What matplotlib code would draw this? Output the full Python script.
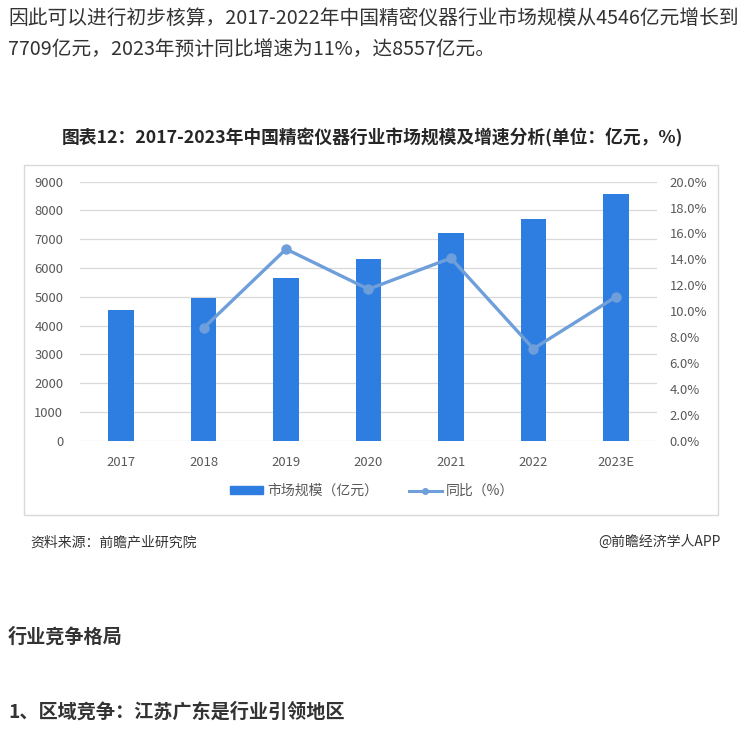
import numpy as np
import matplotlib
matplotlib.use('Agg')
import matplotlib.pyplot as plt
from matplotlib.patches import Rectangle
from matplotlib.lines import Line2D
from matplotlib.ticker import FuncFormatter

plt.rcParams['font.family'] = ['Noto Sans CJK SC', 'DejaVu Sans']

# data
years = ['2017', '2018', '2019', '2020', '2021', '2022', '2023E']
market_size = [4546, 4944, 5660, 6299, 7222, 7709, 8557]   # 亿元
growth = [None, 8.7, 14.8, 11.7, 14.1, 7.1, 11.1]            # %

para_lines = ['因此可以进行初步核算，2017-2022年中国精密仪器行业市场规模从4546亿元增长到',
              '7709亿元，2023年预计同比增速为11%，达8557亿元。']
chart_title = '图表12：2017-2023年中国精密仪器行业市场规模及增速分析(单位：亿元，%)'
legend_labels = ['市场规模（亿元）', '同比（%）']
source_text = '资料来源：前瞻产业研究院'
brand_text = '@前瞻经济学人APP'
heading1 = '行业竞争格局'
heading2 = '1、区域竞争：江苏广东是行业引领地区'

bar_color = '#2e7de1'
line_color = '#6f9fda'
tick_color = '#595959'
text_color = '#333333'

W, H = 745, 734
fig = plt.figure(figsize=(W / 100, H / 100), dpi=100)

def fx(px):
    return px / W

def fy(py):
    return 1 - py / H

# article text
fig.text(fx(8), fy(19), para_lines[0], fontsize=14.2, color=text_color, va='center')
fig.text(fx(8), fy(49), para_lines[1], fontsize=14.2, color=text_color, va='center')
fig.text(fx(8), fy(637), heading1, fontsize=13.8, color=text_color, va='center', fontweight='bold')
fig.text(fx(8), fy(712), heading2, fontsize=13.8, color=text_color, va='center', fontweight='bold')

# chart frame and title
fig.patches.append(Rectangle((fx(24), fy(515)), fx(718) - fx(24), fy(165) - fy(515),
                             transform=fig.transFigure, fill=False,
                             edgecolor='#d9d9d9', linewidth=1))
fig.text(fx(372), fy(138), chart_title, fontsize=12.8, color='#262626',
         ha='center', va='center', fontweight='bold')

ax = fig.add_axes([fx(80), fy(440.7), fx(657) - fx(80), fy(181.7) - fy(440.7)])
x = np.arange(len(years))
ax.bar(x, market_size, width=0.31, color=bar_color, zorder=3)
ax.set_xlim(-0.5, len(years) - 0.5)
ax.set_ylim(0, 9000)
ax.set_yticks(np.arange(0, 9001, 1000))
ax.set_xticks(x)
ax.set_xticklabels(years)
ax.grid(axis='y', color='#d9d9d9', linewidth=0.9, zorder=0)
ax.set_axisbelow(True)
for s in ax.spines.values():
    s.set_visible(False)
ax.tick_params(axis='both', length=0, labelsize=9.4, colors=tick_color)
ax.tick_params(axis='y', pad=12)
ax.tick_params(axis='x', pad=11)

ax2 = ax.twinx()
gx = [i for i, g in enumerate(growth) if g is not None]
gy = [g for g in growth if g is not None]
ax2.plot(gx, gy, color=line_color, linewidth=2.4, marker='o', markersize=6.5, zorder=4)
ax2.set_ylim(0, 20)
ax2.set_yticks(np.arange(0, 20.1, 2))
ax2.yaxis.set_major_formatter(FuncFormatter(lambda v, p: f'{v:.1f}%'))
for s in ax2.spines.values():
    s.set_visible(False)
ax2.tick_params(axis='y', length=0, labelsize=9.4, colors=tick_color, pad=9)

handles = [Rectangle((0, 0), 1, 1, color=bar_color),
           Line2D([0], [0], color=line_color, linewidth=2.2, marker='o', markersize=4)]
fig.legend(handles, legend_labels, loc='center', bbox_to_anchor=(fx(372), fy(491)),
           ncol=2, frameon=False, fontsize=10, labelcolor=tick_color,
           handlelength=2.4, handleheight=0.5, columnspacing=2.2, handletextpad=0.3)

fig.text(fx(30), fy(542), source_text, fontsize=10, color=text_color, va='center')
fig.text(fx(721), fy(542), brand_text, fontsize=10, color=text_color, va='center', ha='right')

fig.savefig('out.png', dpi=100)
